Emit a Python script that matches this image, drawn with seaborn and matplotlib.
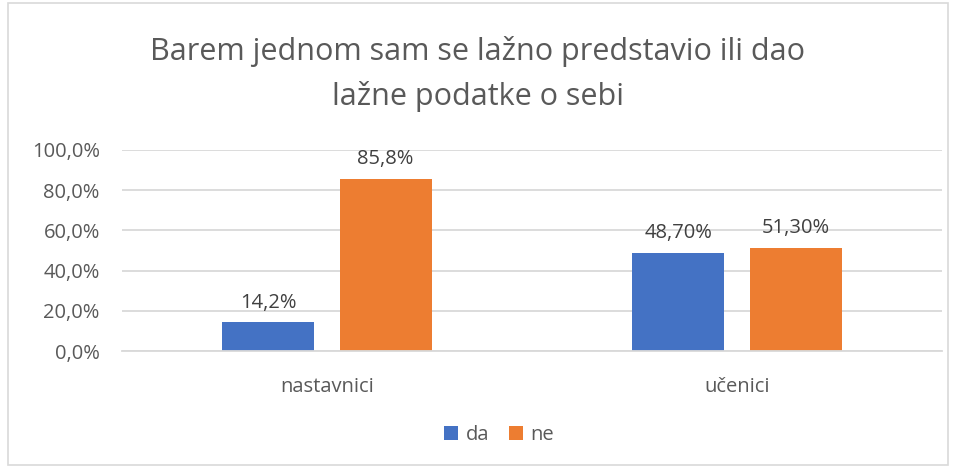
import matplotlib
matplotlib.use("Agg")
import matplotlib.pyplot as plt
import seaborn as sns
import pandas as pd
from matplotlib.patches import Rectangle

categories = ["nastavnici", "učenici"]
series = ["da", "ne"]
da_values = [14.2, 48.70]
ne_values = [85.8, 51.30]
label_decimals = [1, 2]  # decimals shown in data labels per category
title = "Barem jednom sam se lažno predstavio ili dao\nlažne podatke o sebi"
y_ticks = [0, 20, 40, 60, 80, 100]

colors = {"da": "#4472C4", "ne": "#ED7D31"}

rows = []
for i, c in enumerate(categories):
    rows.append({"kategorija": c, "odgovor": "da", "vrijednost": da_values[i]})
    rows.append({"kategorija": c, "odgovor": "ne", "vrijednost": ne_values[i]})
df = pd.DataFrame(rows)

sns.set_theme(style="white")
plt.rcParams["font.family"] = ["Open Sans", "DejaVu Sans"]

fs = 14.5

fig = plt.figure(figsize=(9.56, 4.70), dpi=100)
ax = fig.add_axes([122 / 956, 1 - 351 / 470, 820 / 956, 201 / 470])

sns.barplot(data=df, x="kategorija", y="vrijednost", hue="odgovor",
            order=categories, hue_order=series, palette=colors,
            width=0.571, gap=0.214, saturation=1, ax=ax, legend=True,
            edgecolor="none", linewidth=0)

ax.set_xlim(-0.5, 1.5)
ax.set_ylim(0, 100)
ax.set_yticks(y_ticks)
ax.set_yticklabels([f"{t:.1f}%".replace(".", ",") for t in y_ticks])
ax.set_xlabel("")
ax.set_ylabel("")
ax.grid(axis="y", color="#d9d9d9", linewidth=1.3)
ax.set_axisbelow(True)
for s in ["top", "right", "left"]:
    ax.spines[s].set_visible(False)
ax.spines["bottom"].set_color("#d9d9d9")
ax.spines["bottom"].set_linewidth(1.3)
ax.tick_params(axis="y", length=0, pad=16, labelsize=fs, labelcolor="#595959")
ax.tick_params(axis="x", length=0, pad=19, labelsize=fs, labelcolor="#595959")

for cont, vals in zip(ax.containers, [da_values, ne_values]):
    labels = [f"{v:.{d}f}%".replace(".", ",") for v, d in zip(vals, label_decimals)]
    ax.bar_label(cont, labels=labels, padding=7, fontsize=fs, color="#404040")

handles, lbls = ax.get_legend_handles_labels()
ax.get_legend().remove()
fig.legend(handles, lbls, loc="center", bbox_to_anchor=(0.522, 0.075), ncol=2,
           frameon=False, fontsize=fs, labelcolor="#595959",
           handlelength=0.7, handleheight=0.7, handletextpad=0.35, columnspacing=1.0)

fig.text(0.5, 1 - 74 / 470, title, ha="center", va="center", fontsize=22,
         color="#595959", linespacing=1.6)

fig.patches.append(Rectangle((8 / 956, 5 / 470), 940 / 956, 462 / 470,
                             transform=fig.transFigure, fill=False,
                             edgecolor="#d9d9d9", linewidth=1.2))

fig.savefig("out.png", dpi=100)
